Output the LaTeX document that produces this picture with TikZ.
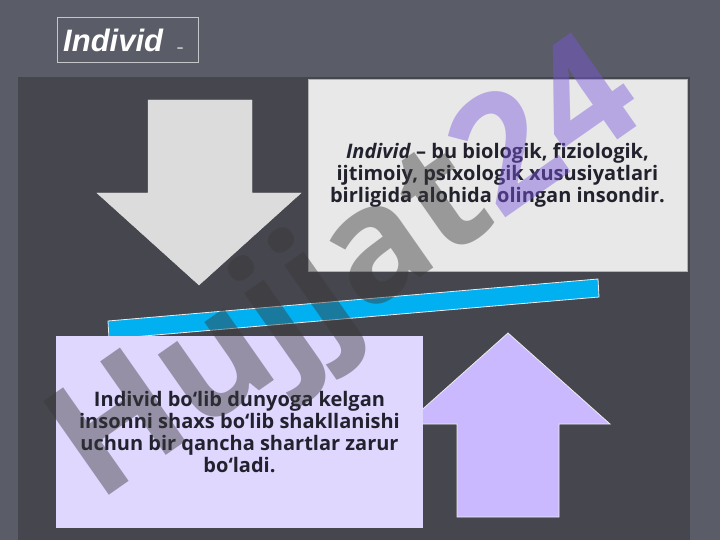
\documentclass[tikz,border=0pt]{standalone}
\usepackage{fontspec}
\setmainfont{Open Sans}
\newfontfamily\titlefont{Liberation Sans}
\usepackage{tikz}
\usetikzlibrary{positioning}
\usepackage{xcolor}
\definecolor{slidebg}{HTML}{5A5C67}
\definecolor{panelbg}{HTML}{45464E}
\definecolor{greybox}{HTML}{E8E8E8}
\definecolor{lilacbox}{HTML}{E0D7FF}
\definecolor{lilacarrow}{HTML}{CBB9FF}
\definecolor{greyarrow}{HTML}{DCDCDC}
\definecolor{barblue}{HTML}{00B0F0}
\definecolor{textdark}{HTML}{22222E}
\definecolor{wmgrey}{HTML}{3A3A3A}
\definecolor{wmpurple}{HTML}{7A56DC}

\tikzset{
  textbox/.style={minimum width=#1, align=center, inner sep=0pt,
    text=textdark, font=\fontsize{20}{22}\selectfont\bfseries},
  shape outline/.style={draw=white!85!gray, line width=0.8pt}
}

\begin{document}
\begin{tikzpicture}[x=1pt, y=-1pt]
			\useasboundingbox (0,0) rectangle (720,540);
			\fill[slidebg] (0,0) rectangle (720,540);
			\fill[panelbg] (18,77) rectangle (690,540);
			
			% title
			\node[draw=white!65!slidebg, line width=0.8pt, minimum width=141pt, minimum height=45pt, inner sep=0pt] (titlebox) at (127.5,39.5) {};
			\node[anchor=base west, inner sep=0pt, text=white, font=\titlefont\fontsize{31}{31}\selectfont\bfseries\itshape] (title) at (63,52) {Individ\hspace{0.45em}\fontsize{11}{11}\selectfont\upshape –};
			
			% arrow down
			\draw[fill=greyarrow, draw=greyarrow!80!white] (148,100) -- (252,100) -- (252,193) -- (301,193) -- (199,285) -- (97,193) -- (148,193) -- cycle;
			
			\node[textbox=379pt, fill=greybox, draw=gray!60, minimum height=192pt] (defn) at (497.5,175) {\textit{Individ} – bu biologik, fiziologik,\\ ijtimoiy, psixologik xususiyatlari\\ birligida alohida olingan insondir.};
			
			% bar
			\draw[fill=barblue, shape outline] (108,321) -- (598,279) -- (599,297) -- (109,339) -- cycle;
			
			% arrow up
			\draw[fill=lilacarrow, shape outline] (457,517) -- (559,517) -- (559,424) -- (610,424) -- (508,333) -- (406,424) -- (457,424) -- cycle;
			
			\node[textbox=367pt, fill=lilacbox, minimum height=192pt] (cond) at (239.5,432) {Individ bo‘lib dunyoga kelgan\\ insonni shaxs bo‘lib shakllanishi\\ uchun bir qancha shartlar zarur\hspace*{0.3em}\\ bo‘ladi.};
			
			% watermark
			\node[rotate=35, text opacity=0.45, inner sep=0pt, font=\fontsize{160}{160}\selectfont\bfseries] (wmark) at (350,276) {\textcolor{wmgrey}{Hujjat}\textcolor{wmpurple}{24}};
			
		\end{tikzpicture}
\end{document}
